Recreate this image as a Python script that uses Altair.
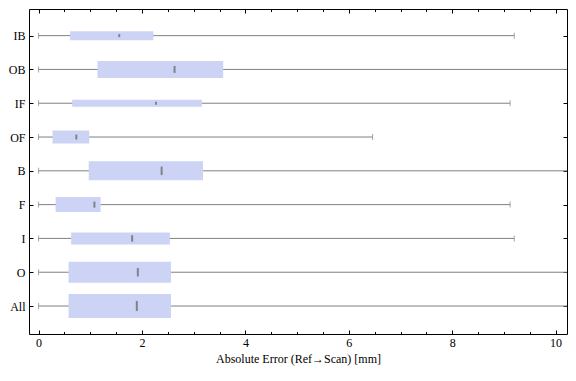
import altair as alt
import pandas as pd

categories = ["IB", "OB", "IF", "OF", "B", "F", "I", "O", "All"]
whisker_low = [0, 0, 0, 0, 0, 0, 0, 0, 0]
q1 = [0.61, 1.14, 0.65, 0.27, 0.97, 0.33, 0.63, 0.58, 0.58]
median = [1.56, 2.63, 2.27, 0.73, 2.38, 1.08, 1.81, 1.92, 1.90]
q3 = [2.22, 3.57, 3.16, 0.98, 3.18, 1.20, 2.54, 2.56, 2.56]
whisker_high = [9.20, 11.5, 9.12, 6.46, 11.5, 9.12, 9.20, 11.5, 11.5]
box_weight = [9, 17, 7, 13, 19, 15, 12, 21, 24]
median_mark = [3, 7, 3, 5, 8.5, 6, 6.5, 8.5, 10]

major_ticks = [0, 2, 4, 6, 8, 10]
minor_ticks = [v / 2 for v in range(0, 21)]
positions = list(range(1, len(categories) + 1))

df = pd.DataFrame({
    "cat": categories,
    "idx": positions,
    "lo": whisker_low,
    "q1": q1,
    "med": median,
    "q3": q3,
    "hi": whisker_high,
    "bw": box_weight,
    "mm": median_mark,
})

FONT = "Liberation Serif"
xs = alt.Scale(domain=[-0.185, 10.22], nice=False, zero=False)
ys = alt.Scale(domain=[0.36, 9.68], reverse=True, nice=False, zero=False)
label_expr = "[" + ",".join(f"'{c}'" for c in categories) + "][datum.value - 1]"

GREY = "#808080"
BOX = "#ccd3f5"

base = alt.Chart(df)

whisker = base.mark_rule(color=GREY, strokeWidth=1, clip=True).encode(
    x=alt.X("lo:Q", scale=xs, title="Absolute Error (Ref\u2192Scan) [mm]",
            axis=alt.Axis(orient="bottom", values=major_ticks, ticks=False, domain=False,
                          grid=False, labelPadding=3, labelFont=FONT, labelFontSize=12,
                          labelColor="black", titleFont=FONT, titleFontSize=12,
                          titleFontWeight="normal", titleColor="black", titlePadding=5,
                          format="d")),
    x2="hi:Q",
    y=alt.Y("idx:Q", scale=ys, title=None,
            axis=alt.Axis(orient="left", values=positions, labelExpr=label_expr, ticks=False,
                          domain=False, grid=False, labelPadding=4, labelFont=FONT,
                          labelFontSize=12, labelColor="black")),
)

box = base.mark_bar(color=BOX, clip=True).encode(
    x=alt.X("q1:Q", scale=xs, title=None,
            axis=alt.Axis(orient="bottom", values=major_ticks, labels=False, domain=False,
                          grid=False, tickSize=4, offset=-4, tickColor="black", tickWidth=1)),
    x2="q3:Q",
    y=alt.Y("idx:Q", scale=ys, title=None,
            axis=alt.Axis(orient="left", values=positions, labels=False, domain=False,
                          grid=False, tickSize=4, offset=-4, tickColor="black", tickWidth=1)),
    size=alt.Size("bw:Q", scale=None),
)

med = base.mark_tick(orient="vertical", thickness=2, color="#6e6e6e", opacity=0.8).encode(
    x=alt.X("med:Q", scale=xs, title=None,
            axis=alt.Axis(orient="bottom", values=minor_ticks, labels=False, domain=False,
                          grid=False, tickSize=2.5, offset=-2.5, tickColor="black", tickWidth=1)),
    y=alt.Y("idx:Q", scale=ys, title=None,
            axis=alt.Axis(orient="right", values=positions, labels=False, domain=False,
                          grid=False, tickSize=4, offset=-4, tickColor="black", tickWidth=1)),
    size=alt.Size("mm:Q", scale=None),
)

cap_lo = base.mark_tick(orient="vertical", thickness=1, size=6, color=GREY).encode(
    x=alt.X("lo:Q", scale=xs, title=None,
            axis=alt.Axis(orient="top", values=major_ticks, labels=False, domain=False,
                          grid=False, tickSize=4, offset=-4, tickColor="black", tickWidth=1)),
    y=alt.Y("idx:Q", scale=ys, axis=None),
)

cap_hi = base.mark_tick(orient="vertical", thickness=1, size=6, color=GREY, clip=True).encode(
    x=alt.X("hi:Q", scale=xs, title=None,
            axis=alt.Axis(orient="top", values=minor_ticks, labels=False, domain=False,
                          grid=False, tickSize=2.5, offset=-2.5, tickColor="black", tickWidth=1)),
    y=alt.Y("idx:Q", scale=ys, axis=None),
)

chart = (
    alt.layer(whisker, box, med, cap_lo, cap_hi)
    .resolve_axis(x="independent", y="independent")
    .properties(width=538, height=325,
                autosize=alt.AutoSizeParams(type="none"),
                padding={"left": 21, "top": 1, "right": 1, "bottom": 32},
                background="white")
    .configure_view(stroke="black", strokeWidth=1, strokeOpacity=1)
)

chart.save("out.html", embed_options={"renderer": "svg", "actions": False})
